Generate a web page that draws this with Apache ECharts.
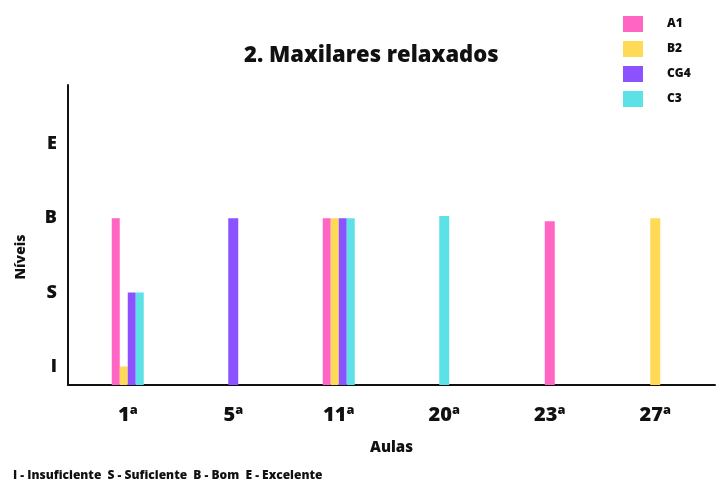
<!DOCTYPE html>
<html>
<head>
<meta charset="utf-8">
<script src="https://cdn.jsdelivr.net/npm/echarts@6/dist/echarts.min.js"></script>
<style>
  html, body { margin: 0; padding: 0; background: #fff; }
  #chart { width: 719px; height: 481px; }
</style>
</head>
<body>
<div id="chart"></div>
<script>
// aulas e niveis (1 = I, 2 = S, 3 = B, 4 = E)
var aulas = ['1ª', '5ª', '11ª', '20ª', '23ª', '27ª']
var niveis = { 1: 'I', 2: 'S', 3: 'B', 4: 'E' }
var nomes = ['A1', 'B2', 'CG4', 'C3']
var cores = ['#FF66C4', '#FFDA56', '#8C52FF', '#5CE1E6']
var a1 = [3, null, 3, null, 2.96, null]
var b2 = [1, null, 3, null, null, 3]
var cg4 = [2, 3, 3, null, null, null]
var c3 = [2, null, 3, 3.03, null, null]
var valores = [a1, b2, cg4, c3]

var fonte = '"Open Sans", sans-serif'

// aula com mais de um valor -> barras agrupadas, senao barra centrada
var agrupada = aulas.map(function (a, i) {
  return valores.filter(function (v) { return v[i] != null }).length > 1
})

var series = []
nomes.forEach(function (nome, k) {
  series.push({
    name: nome,
    type: 'bar',
    xAxisIndex: 0,
    yAxisIndex: 0,
    barWidth: 8,
    barGap: 0,
    itemStyle: { color: cores[k] },
    data: valores[k].map(function (v, i) { return agrupada[i] ? v : null })
  })
})
nomes.forEach(function (nome, k) {
  series.push({
    name: nome,
    type: 'bar',
    xAxisIndex: 1,
    yAxisIndex: 0,
    barWidth: 10,
    barGap: '-100%',
    itemStyle: { color: cores[k] },
    data: valores[k].map(function (v, i) { return agrupada[i] ? null : v })
  })
})

var chart = echarts.init(document.getElementById('chart'))
chart.setOption({
  backgroundColor: '#fff',
  animation: false,
  title: [
    {
      text: '2. Maxilares relaxados',
      left: 239,
      top: 40,
      textStyle: { fontFamily: fonte, fontSize: 22, fontWeight: 800, color: '#111' }
    },
    {
      text: 'I - Insuficiente  S - Suficiente  B - Bom  E - Excelente',
      left: 13,
      top: 470,
      padding: 0,
      textStyle: { fontFamily: fonte, fontSize: 12, fontWeight: 800, color: '#111' }
    }
  ],
  legend: {
    data: nomes,
    orient: 'vertical',
    left: 623,
    top: 16,
    padding: 0,
    itemWidth: 20,
    itemHeight: 16,
    itemGap: 9,
    icon: 'rect',
    selectedMode: false,
    textStyle: { fontFamily: fonte, fontSize: 12, fontWeight: 800, color: '#111', padding: [0, 0, 0, 19] }
  },
  grid: [
    { left: 75, right: 11, top: 85, bottom: 96 },
    { left: 68, right: 4, top: 85, bottom: 96 }
  ],
  xAxis: [
    {
      type: 'category',
      gridIndex: 0,
      data: aulas,
      axisLine: { show: false },
      axisTick: { show: false },
      axisLabel: { margin: 20, fontFamily: fonte, fontSize: 20, fontWeight: 800, color: '#111' },
      name: 'Aulas',
      nameLocation: 'middle',
      nameGap: 55,
      nameTextStyle: { fontFamily: fonte, fontSize: 15, fontWeight: 800, color: '#111' }
    },
    {
      type: 'category',
      gridIndex: 0,
      data: aulas,
      show: false
    },
    {
      type: 'value',
      gridIndex: 1,
      min: 0,
      max: 1,
      axisLine: { show: true, lineStyle: { color: '#111', width: 2 } },
      axisTick: { show: false },
      axisLabel: { show: false },
      splitLine: { show: false }
    }
  ],
  yAxis: [
    {
      type: 'value',
      gridIndex: 0,
      min: 0.75,
      max: 4.8,
      show: false,
      splitLine: { show: false }
    },
    {
      type: 'value',
      gridIndex: 1,
      min: 0.75,
      max: 4.8,
      interval: 0.05,
      axisLine: { show: true, lineStyle: { color: '#111', width: 2 } },
      axisTick: { show: false },
      splitLine: { show: false },
      axisLabel: {
        margin: 11,
        fontFamily: fonte,
        fontSize: 18,
        fontWeight: 800,
        color: '#111',
        formatter: function (v) {
          var r = Math.round(v)
          return Math.abs(v - r) < 1e-6 && niveis[r] ? niveis[r] : ''
        }
      },
      name: 'Níveis',
      nameLocation: 'middle',
      nameGap: 40,
      nameTextStyle: { fontFamily: fonte, fontSize: 14, fontWeight: 800, color: '#111', padding: [0, 44, 0, 0] }
    }
  ],
  series: series
})
</script>
</body>
</html>
